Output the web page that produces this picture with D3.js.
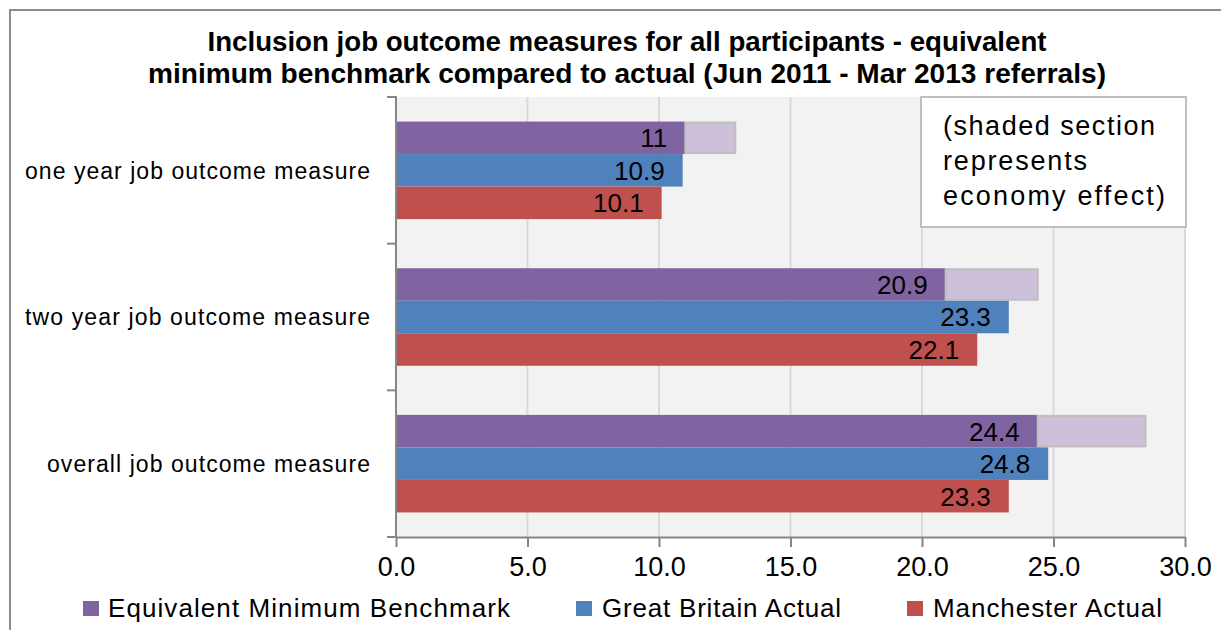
<!DOCTYPE html>
<html>
<head>
<meta charset="utf-8">
<script src="https://cdn.jsdelivr.net/npm/d3@7"></script>
<style>
  html, body { margin: 0; padding: 0; background: #ffffff; }
  svg { display: block; font-family: "Liberation Sans", Arial, sans-serif; }
</style>
</head>
<body>
<svg id="chart" width="1221" height="630"></svg>
<script>
// Job outcome measures, Jun 2011 - Mar 2013 referrals (percent)
const categories = ["one year job outcome measure", "two year job outcome measure", "overall job outcome measure"];
const seriesNames = ["Equivalent Minimum Benchmark", "Great Britain Actual", "Manchester Actual"];
const benchmark = [11, 20.9, 24.4];
const economyEffect = [1.9, 3.5, 4.1];   // extra added on top of the benchmark (shaded)
const gbActual = [10.9, 23.3, 24.8];
const manchesterActual = [10.1, 22.1, 23.3];
const xTicks = [0, 5, 10, 15, 20, 25, 30];

const seriesValues = [benchmark, gbActual, manchesterActual];
const colors = ["#8064a2", "#4f81bd", "#c0504d"];
const shadeColor = "#ccc0da";

const svg = d3.select("#chart");

// outer chart frame
svg.append("rect")
  .attr("x", 10).attr("y", 10).attr("width", 1400).attr("height", 800)
  .attr("fill", "#ffffff").attr("stroke", "#8c8c8c").attr("stroke-width", 2);

// title
const title = svg.append("g").attr("font-weight", "bold").attr("font-size", 27).attr("fill", "#000");
[["Inclusion job outcome measures for all participants - equivalent", 51, 839],
 ["minimum benchmark compared to actual (Jun 2011 - Mar 2013 referrals)", 83, 958]]
  .forEach(([t, ty, w]) => {
    title.append("text").attr("x", 627 - w / 2).attr("y", ty)
      .attr("textLength", w).attr("lengthAdjust", "spacingAndGlyphs").text(t);
  });

// plot area
const plotLeft = 396, plotRight = 1185, plotTop = 97, plotBottom = 537;
const x = d3.scaleLinear().domain([0, 30]).range([plotLeft, plotRight]);
const y = d3.scaleBand().domain(categories).range([plotTop, plotBottom]).paddingInner(0.335).paddingOuter(0.1675);
const ySub = d3.scaleBand().domain(d3.range(seriesNames.length)).range([0, y.bandwidth()]);

svg.append("rect").attr("x", plotLeft).attr("y", plotTop)
  .attr("width", plotRight - plotLeft).attr("height", plotBottom - plotTop)
  .attr("fill", "#f2f2f2");

// vertical gridlines
svg.append("g").selectAll("line").data(xTicks.filter(d => d > 0)).join("line")
  .attr("x1", d => x(d)).attr("x2", d => x(d)).attr("y1", plotTop).attr("y2", plotBottom)
  .attr("stroke", "#d9d9d9").attr("stroke-width", 2);

// bars
const groups = svg.append("g").selectAll("g").data(categories).join("g")
  .attr("transform", d => `translate(0,${y(d)})`);

groups.each(function (cat, ci) {
  const g = d3.select(this);
  seriesValues.forEach((vals, si) => {
    const v = vals[ci];
    const by = ySub(si), bh = ySub.bandwidth();
    g.append("rect").attr("x", x(0)).attr("y", by).attr("width", x(v) - x(0)).attr("height", bh)
      .attr("fill", colors[si]);
    if (si === 0) {
      g.append("rect").attr("x", x(v)).attr("y", by + 1)
        .attr("width", x(v + economyEffect[ci]) - x(v)).attr("height", bh - 2)
        .attr("fill", shadeColor).attr("stroke", "#bfbfbf").attr("stroke-width", 2);
    }
    g.append("text").attr("x", x(v) - 18).attr("y", by + bh / 2).attr("dy", "0.36em")
      .attr("text-anchor", "end").attr("font-size", 26).attr("fill", "#000")
      .text(v);
  });
});

// left axis with category separators
const yAxis = svg.append("g").attr("stroke", "#868686").attr("stroke-width", 2);
yAxis.append("line").attr("x1", plotLeft).attr("x2", plotLeft).attr("y1", plotTop - 1).attr("y2", plotBottom);
const gap = y.step() - y.bandwidth();
[plotTop, ...categories.slice(1).map(c => y(c) - gap / 2), plotBottom].forEach(v => {
  yAxis.append("line").attr("x1", plotLeft - 9).attr("x2", plotLeft).attr("y1", v).attr("y2", v);
});

// category labels
const labelWidths = [345, 345, 323];
svg.append("g").selectAll("text").data(categories).join("text")
  .attr("x", (d, i) => 370 - labelWidths[i])
  .attr("y", d => y(d) + y.bandwidth() / 2).attr("dy", "0.36em")
  .attr("font-size", 23).attr("fill", "#000")
  .attr("textLength", (d, i) => labelWidths[i]).attr("lengthAdjust", "spacing")
  .text(d => d);

// bottom axis
const xAxis = svg.append("g").attr("transform", `translate(0,${plotBottom})`)
  .call(d3.axisBottom(x).tickValues(xTicks).tickFormat(d3.format(".1f")).tickSize(10).tickSizeOuter(0));
xAxis.select(".domain").attr("stroke", "#868686").attr("stroke-width", 2);
xAxis.selectAll(".tick line").attr("stroke", "#868686").attr("stroke-width", 2);
xAxis.selectAll(".tick text").attr("font-size", 27).attr("font-family", "Liberation Sans, Arial, sans-serif")
  .attr("fill", "#000").attr("y", 20).attr("dy", "0.71em");

// note box
const note = svg.append("g");
note.append("rect").attr("x", 921).attr("y", 97).attr("width", 265).attr("height", 130)
  .attr("fill", "#ffffff").attr("stroke", "#bfbfbf").attr("stroke-width", 2);
[["(shaded section", 135, 212], ["represents", 170, 144], ["economy effect)", 205, 222]].forEach(([t, ty, w]) => {
  note.append("text").attr("x", 943).attr("y", ty).attr("font-size", 27).attr("fill", "#000")
    .attr("textLength", w).attr("lengthAdjust", "spacing").text(t);
});

// legend
const legendItems = [
  { sx: 83, tx: 108, w: 402 },
  { sx: 576, tx: 602, w: 239 },
  { sx: 907, tx: 933, w: 229 }
];
const legend = svg.append("g");
legendItems.forEach((it, i) => {
  legend.append("rect").attr("x", it.sx).attr("y", 601).attr("width", 16).attr("height", 15)
    .attr("fill", colors[i]);
  legend.append("text").attr("x", it.tx).attr("y", 617).attr("font-size", 26).attr("fill", "#000")
    .attr("textLength", it.w).attr("lengthAdjust", "spacing").text(seriesNames[i]);
});
</script>
</body>
</html>
